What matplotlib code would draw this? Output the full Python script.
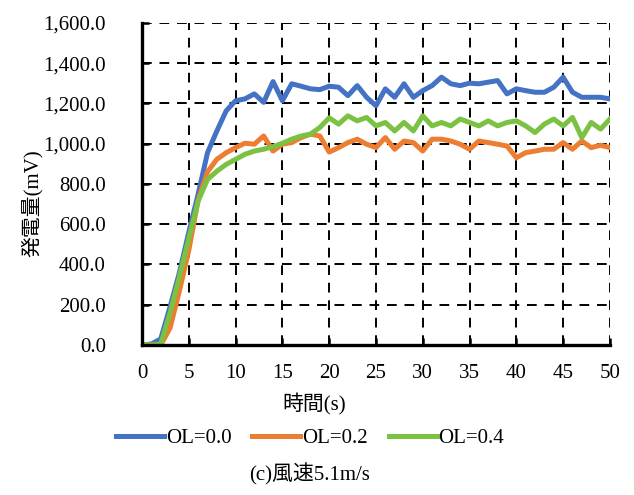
import numpy as np
import matplotlib
matplotlib.use("Agg")
import matplotlib.pyplot as plt
from matplotlib.ticker import FuncFormatter

plt.rcParams['font.family'] = ['Liberation Serif', 'Noto Sans CJK JP', 'DejaVu Sans']

# time (s), one reading per second
t = list(range(0, 51))

ol_00 = [0, 5, 30, 190, 360, 560, 750, 955, 1063, 1163,
         1213, 1222, 1247, 1205, 1308, 1213, 1297, 1285, 1272, 1268,
         1285, 1280, 1238, 1288, 1230, 1188, 1272, 1230, 1297, 1230,
         1263, 1288, 1330, 1297, 1288, 1300, 1297, 1305, 1313, 1247,
         1272, 1263, 1255, 1255, 1280, 1330, 1255, 1230, 1230, 1230,
         1222]
ol_02 = [0, 0, 0, 85, 270, 470, 720, 860, 922, 955,
         980, 1002, 997, 1038, 963, 997, 1005, 1030, 1047, 1038,
         958, 980, 1005, 1022, 997, 980, 1030, 972, 1013, 1005,
         963, 1022, 1022, 1013, 997, 972, 1013, 1005, 997, 988,
         930, 955, 963, 972, 972, 1005, 972, 1013, 980, 992,
         980]
ol_04 = [0, 0, 5, 160, 340, 530, 715, 822, 863, 897,
         922, 947, 963, 972, 985, 1002, 1022, 1038, 1047, 1080,
         1128, 1097, 1138, 1113, 1130, 1088, 1105, 1063, 1105, 1063,
         1138, 1088, 1105, 1088, 1122, 1105, 1088, 1113, 1088, 1105,
         1113, 1088, 1055, 1097, 1122, 1088, 1130, 1030, 1105, 1072,
         1122]

series = [("OL=0.0", ol_00, "#4472C4"),
          ("OL=0.2", ol_02, "#ED7D31"),
          ("OL=0.4", ol_04, "#7CC242")]

fig = plt.figure(figsize=(6.34, 4.95), dpi=100)
ax = fig.add_axes([0.224, 0.303, 0.738, 0.651])

for name, vals, col in series:
    ax.plot(t, vals, color=col, lw=3.6, label=name, solid_joinstyle='round')

ax.set_xlim(0, 50)
ax.set_ylim(0, 1600)
ax.set_xticks(range(0, 51, 5))
ax.set_yticks(range(0, 1601, 200))
ax.yaxis.set_major_formatter(FuncFormatter(lambda v, p: f"{v:,.1f}"))

ax.grid(True, color='black', linestyle=(0, (5, 4)), linewidth=1.4)
ax.set_axisbelow(True)
for s in ['top', 'right']:
    ax.spines[s].set_visible(False)
for s in ['left', 'bottom']:
    ax.spines[s].set_linewidth(2.4)
ax.tick_params(axis='both', direction='in', length=5, width=1.8, labelsize=15)
ax.tick_params(axis='x', pad=14)
ax.tick_params(axis='y', pad=26)

fig.text(32 / 634, 1 - 203 / 495, "発電量(mV)", rotation=90,
         ha='center', va='center', fontsize=15)
fig.text(314 / 634, 1 - 404 / 495, "時間(s)", ha='center', va='center', fontsize=15)

fig.legend(loc='center', bbox_to_anchor=(310 / 634, 1 - 438 / 495), ncol=3,
           frameon=False, fontsize=15, handlelength=2.3, columnspacing=1.0,
           handletextpad=0.1)

fig.text(310 / 634, 1 - 474 / 495, "(c)風速5.1m/s", ha='center', va='center', fontsize=15)

fig.savefig("out.png", dpi=100)
